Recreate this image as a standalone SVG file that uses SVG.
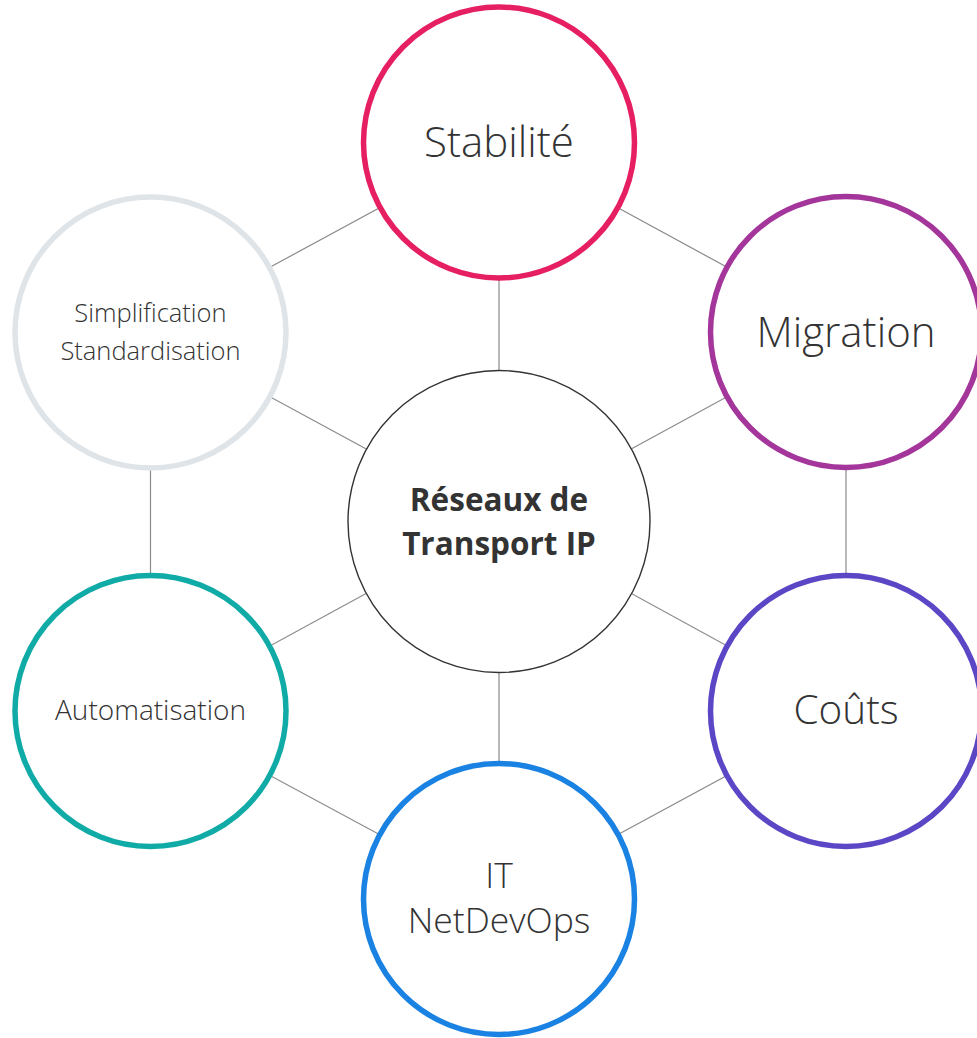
<svg xmlns="http://www.w3.org/2000/svg" width="977" height="1038" viewBox="0 0 977 1038">
<style>
.bg{fill:#ffffff}
.conn line{stroke:#8a8a8a;stroke-width:1.2}
.node circle{fill:#ffffff;stroke-width:5.5}
.t{font-family:"Open Sans","Noto Sans",sans-serif;fill:#333333;text-anchor:middle;font-weight:300}
.big{font-size:42px}
.co{font-size:40.5px}
.mid{font-size:35.5px}
.sm{font-size:25.5px}
.au{font-size:28px}
.ctr{font-size:31.5px;font-weight:700}
</style>
<rect class="bg" x="0" y="0" width="977" height="1038"/>
<g id="connectors" class="conn">
<line x1="499" y1="521" x2="499" y2="143"/>
<line x1="499" y1="521" x2="846" y2="332"/>
<line x1="499" y1="521" x2="846" y2="711"/>
<line x1="499" y1="521" x2="499" y2="899"/>
<line x1="499" y1="521" x2="150.5" y2="711"/>
<line x1="499" y1="521" x2="150.5" y2="332"/>
<line x1="499" y1="143" x2="846" y2="332"/>
<line x1="846" y1="332" x2="846" y2="711"/>
<line x1="846" y1="711" x2="499" y2="899"/>
<line x1="499" y1="899" x2="150.5" y2="711"/>
<line x1="150.5" y1="711" x2="150.5" y2="332"/>
<line x1="150.5" y1="332" x2="499" y2="143"/>
</g>
<g id="center" class="node">
<circle cx="499" cy="521.5" r="151" style="stroke:#333333;stroke-width:1.4"/>
<text class="t ctr" x="499" y="511">Réseaux de</text>
<text class="t ctr" x="499" y="555">Transport IP</text>
</g>
<g id="stabilite" class="node">
<circle cx="499" cy="142.5" r="135.5" style="stroke:#E61F63"/>
<text class="t big" x="499" y="157">Stabilité</text>
</g>
<g id="migration" class="node">
<circle cx="846" cy="332" r="135.5" style="stroke:#A3359B"/>
<text class="t big" x="846" y="347">Migration</text>
</g>
<g id="couts" class="node">
<circle cx="846" cy="711" r="135.5" style="stroke:#5B47C6"/>
<text class="t co" x="846" y="724">Coûts</text>
</g>
<g id="it" class="node">
<circle cx="499" cy="899" r="135.5" style="stroke:#1A82E2"/>
<text class="t mid" x="499" y="888">IT</text>
<text class="t mid" x="499" y="933">NetDevOps</text>
</g>
<g id="automatisation" class="node">
<circle cx="150.5" cy="711" r="135.5" style="stroke:#10ABA7"/>
<text class="t au" x="150.5" y="720">Automatisation</text>
</g>
<g id="simplification" class="node">
<circle cx="150.5" cy="332.5" r="135.5" style="stroke:#DFE4E9"/>
<text class="t sm" x="150.5" y="322">Simplification</text>
<text class="t sm" x="150.5" y="360">Standardisation</text>
</g>
</svg>
